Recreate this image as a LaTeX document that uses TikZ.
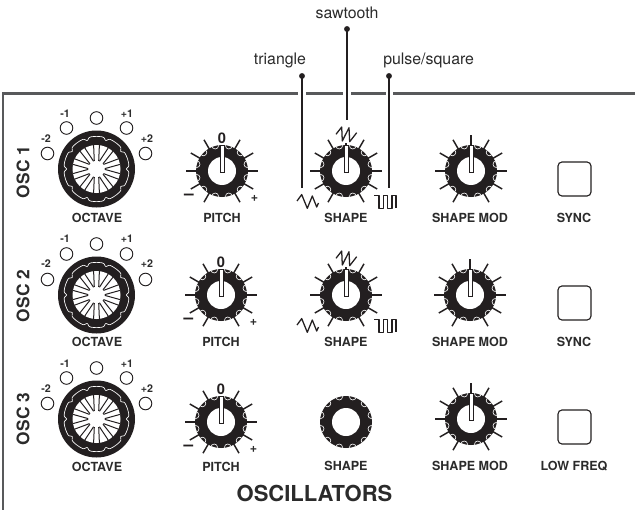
\documentclass[tikz,border=0pt]{standalone}
\usepackage{fontspec}
\setmainfont{TeX Gyre Heros}
\definecolor{ink}{HTML}{231F20}
\definecolor{frame}{HTML}{58595B}
\definecolor{txt}{HTML}{2B2B2B}
\tikzset{
  panel/.style={draw=frame,line width=1.5pt},
  lead/.style={draw=ink,line width=0.95pt},
  leaddot/.style={circle,fill=ink,inner sep=0pt,minimum size=4.4pt},
  tick/.style={draw=ink,line width=1.1pt},
  wave/.style={draw=ink,line width=0.95pt,line join=round},
  lab/.style={font=\fontsize{9.4}{10}\selectfont\bfseries,text=txt,inner sep=0pt},
  small/.style={font=\fontsize{8}{9}\selectfont\bfseries,text=txt,inner sep=0pt},
  zero/.style={font=\fontsize{11}{12}\selectfont\bfseries,text=ink,inner sep=0pt},
  minus/.style={font=\fontsize{13}{14}\selectfont\bfseries,text=ink,inner sep=0pt},
  osc/.style={font=\fontsize{13}{14}\selectfont\bfseries,text=txt,inner sep=0pt,rotate=90},
  note/.style={font=\fontsize{11.9}{13}\selectfont,text=txt,inner sep=0pt},
  lamp/.style={draw=ink,line width=0.7pt,fill=white},
  sw/.style={draw=ink,line width=0.85pt,rounded corners=3pt,fill=white,minimum width=24.75pt,minimum height=25.5pt,inner sep=0pt},
}
% rim of a knob, hole
\newcommand{\kdisk}[2]{%
  \begin{scope}[shift={(#1,#2)}]
    \fill[ink] (0,0) circle[radius=26];
    \begin{scope}
      \clip (0,0) circle[radius=26];
      \foreach \a in {15,45,...,345}{\draw[white,line width=0.45pt] (\a:26.3) circle[radius=3.4];}
    \end{scope}
    \fill[white] (0,0) circle[radius=14];
  \end{scope}}
% ticks and pointer; #3 = outer radius of the top tick
\newcommand{\kticks}[3]{%
  \begin{scope}[shift={(#1,#2)}]
    \foreach \a in {-240,-210,-180,-150,-120,-60,-30,0,30,60}{\draw[tick] (\a:25) -- (\a:36);}
    \draw[tick] (-90:25) -- (-90:#3);
  \end{scope}}
\newcommand{\kpointer}[2]{%
  \draw[ink,line width=0.55pt,fill=white] (#1-2,#2-26) rectangle (#1+2,#2+1);}
\newcommand{\knob}[3]{\kticks{#1}{#2}{#3}\kdisk{#1}{#2}\kpointer{#1}{#2}}
% octave selector with five lamps
\newcommand{\octave}[2]{%
  \begin{scope}[shift={(#1,#2)}]
    \fill[ink] (0,0) circle[radius=38.5];
    \fill[white] (0,0) circle[radius=24];
    \draw[white,line width=0.5pt] plot[smooth cycle,samples=360,domain=0:359] (\x:{32.6-2.6*pow(0.501+0.499*cos(10*\x),10)});
    \foreach \a in {-90,-54,...,234}{
      \draw[ink,line width=0.75pt,rotate=\a] (24,2.9) -- (8,2.2) (24,-2.9) -- (8,-2.2);}
    \draw[lamp] (0,-51) circle[radius=6.3];
    \draw[lamp] (-30,-41) circle[radius=6.3];
    \draw[lamp] (30,-41) circle[radius=6.3];
    \draw[lamp] (-49,-15.5) circle[radius=6.3];
    \draw[lamp] (49,-15.5) circle[radius=6.3];
  \end{scope}}
% waveform glyphs, relative to the knob centre
\newcommand{\wtri}[2]{\draw[wave,shift={(#1,#2)}] (-49,30) -- (-44.3,23.6) -- (-38.7,37.3) -- (-33.7,25) -- (-29.3,36) -- (-27.5,32);}
\newcommand{\wsaw}[2]{\draw[wave,shift={(#1,#2)}] (-10,-36.7) -- (-4.3,-44) -- (-3.7,-30) -- (3,-43.3) -- (3.7,-29.3) -- (10.7,-38.3);}
\newcommand{\wpul}[2]{\draw[wave,shift={(#1,#2)}] (28.3,24.3) -- (33,24.3) -- (33,37.3) -- (37.5,37.3) -- (37.5,24.3) -- (41.5,24.3) -- (41.5,37.3) -- (46,37.3) -- (46,24.3) -- (50,24.3) -- (50,37.3);}
\begin{document}
\begin{tikzpicture}[x=0.75pt,y=-0.75pt]
\useasboundingbox (0,0) rectangle (635,510);
\fill[white] (0,0) rectangle (635,510);

% panel frame with gaps at the leader lines
\draw[panel] (3,510) -- (3,93.5) -- (298,93.5);
\draw[panel] (306,93.5) -- (343,93.5);
\draw[panel] (351,93.5) -- (385.5,93.5);
\draw[panel] (393,93.5) -- (635,93.5);

% row 1
\octave{96.5}{169}
\knob{222}{171}{25}
\knob{346}{171}{28}
\knob{471}{171}{36}
\wtri{346}{171}\wsaw{346}{171}\wpul{346}{171}
% row 2
\octave{96.5}{295}
\knob{221}{295}{25}
\knob{346}{295}{28}
\knob{470}{295}{36}
\wtri{346}{295}\wsaw{346}{295}\wpul{346}{295}
% row 3
\octave{96.5}{419}
\knob{221}{422}{25}
\kdisk{346}{422}
\knob{471}{419}{36}

% switches
\node[sw] (sync1) at (574.5,179) {};
\node[sw] (sync2) at (574.5,303) {};
\node[sw] (lowf) at (574.5,427) {};

% leaders
\node[leaddot] (tridot) at (302,76) {};
\node[leaddot] (sawdot) at (347,29) {};
\node[leaddot] (puldot) at (389,76) {};
\coordinate (triend) at (302,188);
\coordinate (sawend) at (347,120);
\coordinate (pulend) at (389,188);
\draw[lead] (tridot.center) -- (triend);
\draw[lead] (sawdot.center) -- (sawend);
\draw[lead] (puldot.center) -- (pulend);
\node[note] (tril) at (280,60) {triangle};
\node[note] (sawl) at (347,13) {sawtooth};
\node[note,anchor=west] (pull) at (383,60) {pulse/square};

% oscillator names
\node[osc] (o1) at (23,172) {OSC 1};
\node[osc] (o2) at (23,296) {OSC 2};
\node[osc] (o3) at (23,419) {OSC 3};

% lamp labels
\node[small] (a1) at (46,139) {-2};
\node[small] (a2) at (65,114) {-1};
\node[small] (a3) at (127,114) {+1};
\node[small] (a4) at (147,139) {+2};
\node[small] (b1) at (46,264) {-2};
\node[small] (b2) at (65,239) {-1};
\node[small] (b3) at (127,239) {+1};
\node[small] (b4) at (147,264) {+2};
\node[small] (c1) at (46,389) {-2};
\node[small] (c2) at (65,364) {-1};
\node[small] (c3) at (127,364) {+1};
\node[small] (c4) at (147,389) {+2};

% pitch marks
\node[zero] (z1) at (222,138) {0};
\node[minus] (m1) at (189,197) {–};
\node[lab] (p1) at (254.5,198) {+};
\node[zero] (z2) at (221,262) {0};
\node[minus] (m2) at (188.5,321) {–};
\node[lab] (p2) at (253.5,322) {+};
\node[zero] (z3) at (221,389) {0};
\node[minus] (m3) at (188.5,448) {–};
\node[lab] (p3) at (253.5,449) {+};

% control labels
\node[lab] (l11) at (97,218) {OCTAVE};
\node[lab] (l12) at (222,218) {PITCH};
\node[lab] (l13) at (346,218) {SHAPE};
\node[lab] (l14) at (470,218) {SHAPE MOD};
\node[lab] (l15) at (574,218) {SYNC};
\node[lab] (l21) at (97,342) {OCTAVE};
\node[lab] (l22) at (221,342) {PITCH};
\node[lab] (l23) at (346,342) {SHAPE};
\node[lab] (l24) at (470,342) {SHAPE MOD};
\node[lab] (l25) at (574,342) {SYNC};
\node[lab] (l31) at (97,467) {OCTAVE};
\node[lab] (l32) at (221,467) {PITCH};
\node[lab] (l33) at (346,466) {SHAPE};
\node[lab] (l34) at (470,466) {SHAPE MOD};
\node[lab] (l35) at (574,466) {LOW FREQ};
\node[font=\fontsize{16.5}{18}\selectfont\bfseries,text=txt,inner sep=0pt] (title) at (314.5,493) {OSCILLATORS};
\end{tikzpicture}
\end{document}
